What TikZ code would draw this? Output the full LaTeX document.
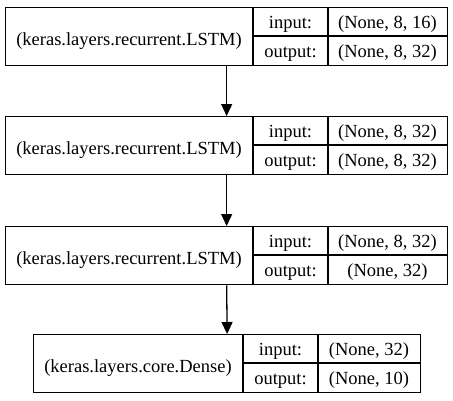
\documentclass[tikz,border=0pt]{standalone}
\usepackage{fontspec}
\setmainfont{Liberation Serif}
\usetikzlibrary{arrows.meta}
\newcommand\layerbox[9]{%
  \node[layer, minimum width={#4-#2}, anchor=north west] (#1) at (#2,#3) {};
  \draw (#5,#3) -- (#5,#3+58);
  \draw (#6,#3) -- (#6,#3+58);
  \draw (#5,#3+29) -- (#4,#3+29);
  \node[txt] (#1t) at ({(#2+#5)/2},#3+38.5) {#7};
  \node[txt] (#1il) at ({(#5+#6)/2},#3+21) {input:};
  \node[txt] (#1ol) at ({(#5+#6)/2},#3+50.3) {output:};
  \node[txt] (#1iv) at ({(#6+#4)/2},#3+21) {#8};
  \node[txt] (#1ov) at ({(#6+#4)/2},#3+50.3) {#9};
}
\begin{document}
\begin{tikzpicture}[x=1pt,y=-1pt,line width=1.3pt,
  layer/.style={draw, rectangle, inner sep=0pt, minimum height=58pt},
  txt/.style={inner sep=0pt, anchor=base, font=\fontsize{18.5}{22}\selectfont},
  arr/.style={-{Triangle[length=12pt,width=11pt]}, line width=1.3pt}]
\fill[white] (0,0) rectangle (453,400);
\useasboundingbox (0,0) rectangle (453,400);
\layerbox{L1}{5}{7}{447}{253}{328}{(keras.layers.recurrent.LSTM)}{(None, 8, 16)}{(None, 8, 32)}
\layerbox{L2}{5}{116}{447}{253}{328}{(keras.layers.recurrent.LSTM)}{(None, 8, 32)}{(None, 8, 32)}
\layerbox{L3}{5}{226}{447}{253}{328}{(keras.layers.recurrent.LSTM)}{(None, 8, 32)}{(None, 32)}
\layerbox{L4}{33}{334}{420}{243}{318}{(keras.layers.core.Dense)}{(None, 32)}{(None, 10)}
\draw[arr] (L1.south) -- (L2.north);
\draw[arr] (L2.south) -- (L3.north);
\draw[arr] (L3.south) -- (L4.north);
\end{tikzpicture}
\end{document}
